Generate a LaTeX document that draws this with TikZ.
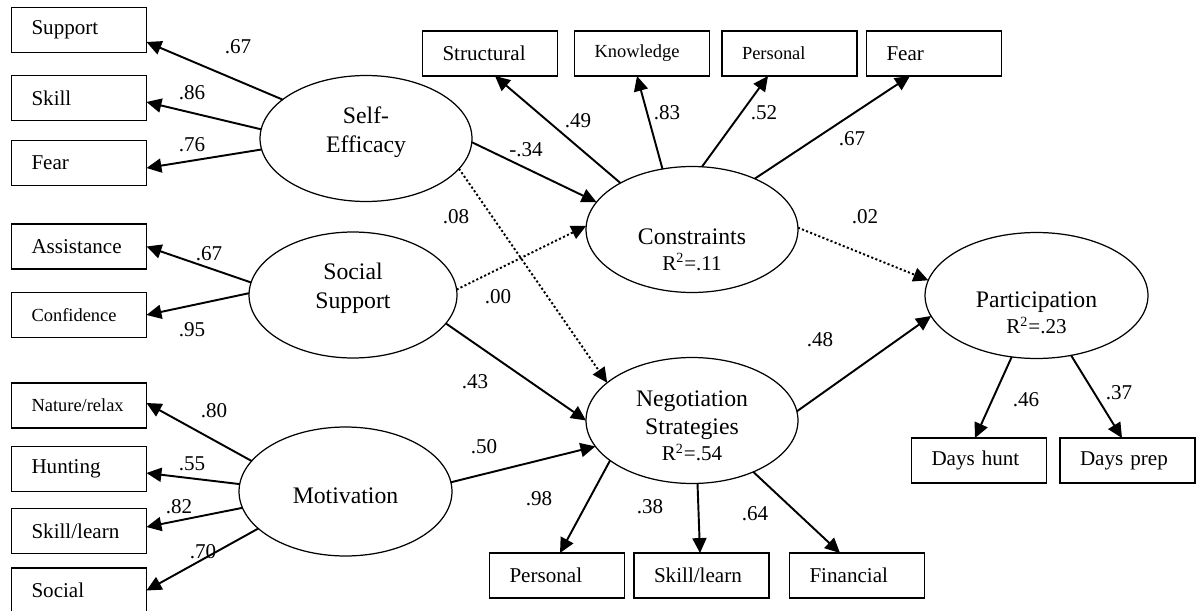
\documentclass[tikz,border=0pt]{standalone}
\usepackage{fontspec}
\setmainfont{Liberation Serif}
\usepackage{tikz}
\usetikzlibrary{positioning, arrows.meta, shapes.geometric, calc}
\newcommand{\rsqline}[1]{{\fontsize{12}{14}\selectfont R\textsuperscript{2}=#1}}

\begin{document}
\begin{tikzpicture}[x=0.02cm, y=-0.02cm,
        obs/.style={draw, line width=0.8pt, outer sep=0pt, minimum height=0.9cm,
            text width=1.9cm, inner xsep=0.4cm, align=left, font=\fontsize{12}{14}\selectfont},
        obssmall/.style={obs, font=\fontsize{10.5}{12}\selectfont},
        latent/.style={ellipse, draw, line width=0.7pt, inner sep=0pt, outer sep=0pt,
            minimum width=4.24cm, minimum height=2.52cm, align=center, font=\fontsize{13.5}{16}\selectfont},
        arr/.style={line width=1.1pt, -{Triangle[length=8.5pt, width=8pt]}},
        dotarr/.style={arr, dash pattern=on 1.2pt off 1.3pt},
        coef/.style={inner sep=0pt, font=\fontsize{12}{14}\selectfont}]
        \useasboundingbox (0,0) rectangle (1196,611);

        % latent variables
        \node[latent, text height=18.3pt] (se) at (366,138.5) {Self-\\Efficacy};
        \node[latent, text height=17.7pt, minimum width=4.16cm] (ss) at (353,295) {Social\\Support};
        \node[latent, text height=14.2pt, minimum width=4.26cm, minimum height=2.58cm] (mot) at (345.5,491.5) {Motivation};
        \node[latent, text height=47pt] (con) at (692,229.5) {Constraints\\[-1pt]\rsqline{.11}};
        \node[latent, text height=46pt] (neg) at (692,420.5) {Negotiation\\Strategies\\[-1pt]\rsqline{.54}};
        \node[latent, text height=43.8pt, minimum width=4.46cm] (par) at (1036.5,295.5) {Participation\\[-1pt]\rsqline{.23}};

        % indicators
        \node[obs] (sup) at (79,30) {Support};
        \node[obs] (skl) at (79,98) {Skill};
        \node[obs] (fea) at (79,163) {Fear};
        \node[obs] (ast) at (79,246.5) {Assistance};
        \node[obssmall] (cnf) at (79,315) {Confidence};
        \node[obssmall] (nat) at (79,405.5) {Nature/relax};
        \node[obs] (hnt) at (79,469) {Hunting};
        \node[obs] (skm) at (79,531) {Skill/learn};
        \node[obs] (soc) at (79,590.5) {Social};
        \node[obs] (str) at (490,53.5) {Structural};
        \node[obssmall] (kno) at (642,53.5) {Knowledge};
        \node[obssmall] (cpe) at (789.5,53.5) {Personal};
        \node[obs] (cfe) at (934,53.5) {Fear};
        \node[obs] (npe) at (557,575.5) {Personal};
        \node[obs] (nsk) at (701.5,575.5) {Skill/learn};
        \node[obs] (fin) at (857,575.5) {Financial};
        \node[obs] (dhu) at (979,460.5) {Days hunt};
        \node[obs] (dpr) at (1127.5,460.5) {Days prep};

        % loadings
        \draw[arr] (se.155) -- ([yshift=-0.24cm]sup.east);
        \draw[arr] (se.175) -- ([yshift=-0.08cm]skl.east);
        \draw[arr] (se.186) -- ([yshift=-0.1cm]fea.east);
        \draw[arr] (ss.173) -- (ast.east);
        \draw[arr] (ss.179) -- (cnf.east);
        \draw[arr] (mot.162) -- ([yshift=0.05cm]nat.east);
        \draw[arr] (mot.176) -- ([yshift=-0.08cm]hnt.east);
        \draw[arr] (mot.189) -- ([yshift=0.08cm]skm.east);
        \draw[arr] (mot.203) -- (soc.east);
        \draw[arr] (con.147) -- ([xshift=0.1cm]str.south);
        \draw[arr] (con.116) -- ([xshift=-0.1cm]kno.south);
        \draw[arr] (con.81) -- ([xshift=-0.43cm]cpe.south);
        \draw[arr] (con.39) -- ([xshift=-0.48cm]cfe.south);
        \draw[arr] (neg.206) -- ([xshift=0.06cm]npe.north);
        \draw[arr] (neg.275) -- ([xshift=-0.03cm]nsk.north);
        \draw[arr] (neg.320) -- ([xshift=-0.34cm]fin.north);
        \draw[arr] (par.248) -- ([xshift=-0.08cm]dhu.north);
        \draw[arr] (par.300) -- ([xshift=-0.11cm]dpr.north);

        % structural paths
        \draw[arr] (se.-2) -- (con.164);
        \draw[dotarr] (se.-18) -- (neg.156);
        \draw[dotarr] (ss.3) -- (con.178);
        \draw[arr] (ss.-17) -- (neg.180);
        \draw[arr] (mot.5) -- (neg.195);
        \draw[dotarr] (con.1) -- (par.172);
        \draw[arr] (neg.5) -- (par.191);

        \node[coef] (c-sup) at (238,47) {.67};
        \node[coef] (c-skl) at (192,93) {.86};
        \node[coef] (c-fea) at (192,145) {.76};
        \node[coef] (c-ast) at (209,254) {.67};
        \node[coef] (c-cnf) at (192,330) {.95};
        \node[coef] (c-nat) at (214,411) {.80};
        \node[coef] (c-hnt) at (192,464) {.55};
        \node[coef] (c-skm) at (179,507) {.82};
        \node[coef] (c-soc) at (203,552) {.70};
        \node[coef] (c-str) at (578,121) {.49};
        \node[coef] (c-kno) at (667,113) {.83};
        \node[coef] (c-cpe) at (764,113) {.52};
        \node[coef] (c-cfe) at (852,139) {.67};
        \node[coef] (c-npe) at (539,499) {.98};
        \node[coef] (c-nsk) at (650,507) {.38};
        \node[coef] (c-fin) at (755,514) {.64};
        \node[coef] (c-dhu) at (1026,400) {.46};
        \node[coef] (c-dpr) at (1119,393) {.37};
        \node[coef] (c-sc) at (526,150) {-.34};
        \node[coef] (c-sn) at (456,217) {.08};
        \node[coef] (c-tc) at (498,297) {.00};
        \node[coef] (c-tn) at (475,382) {.43};
        \node[coef] (c-mn) at (484,447) {.50};
        \node[coef] (c-cp) at (865,217) {.02};
        \node[coef] (c-np) at (820,340) {.48};
    \end{tikzpicture}
\end{document}
